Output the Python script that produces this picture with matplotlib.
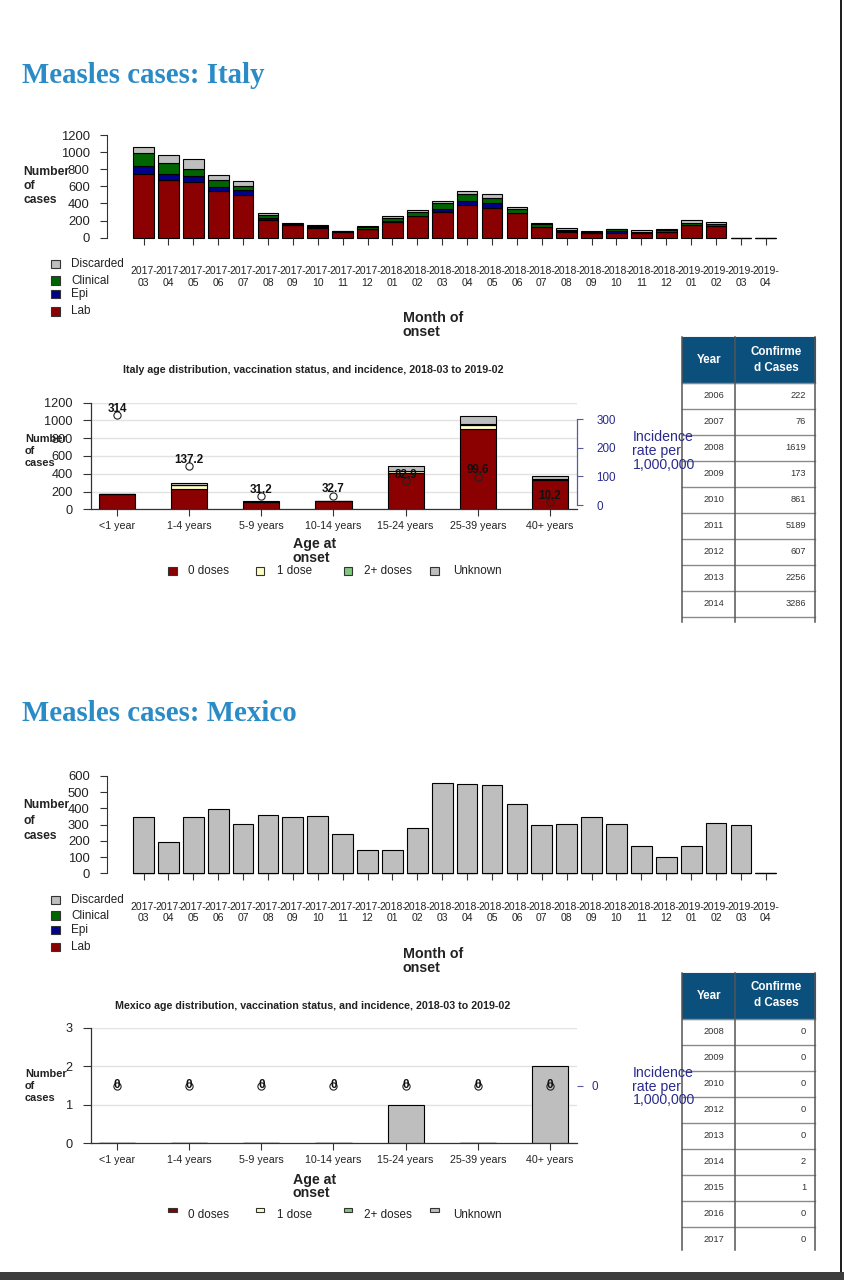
import numpy as np
import matplotlib
matplotlib.use('Agg')
import matplotlib.pyplot as plt
from matplotlib.patches import Rectangle
from matplotlib.transforms import blended_transform_factory

# ---------------- data ----------------
months = ['2017-03', '2017-04', '2017-05', '2017-06', '2017-07', '2017-08', '2017-09',
          '2017-10', '2017-11', '2017-12', '2018-01', '2018-02', '2018-03', '2018-04',
          '2018-05', '2018-06', '2018-07', '2018-08', '2018-09', '2018-10', '2018-11',
          '2018-12', '2019-01', '2019-02', '2019-03', '2019-04']

italy_lab = [740, 680, 655, 550, 500, 210, 145, 115, 62, 100, 180, 250, 305, 382,
             350, 285, 120, 70, 55, 50, 50, 65, 145, 135, 0, 0]
italy_epi = [100, 70, 70, 40, 55, 15, 5, 5, 3, 5, 10, 5, 35, 43,
             50, 8, 8, 5, 3, 25, 5, 5, 5, 5, 0, 0]
italy_clinical = [150, 120, 80, 80, 50, 40, 12, 18, 10, 18, 35, 50, 62, 85,
                  66, 40, 28, 15, 10, 25, 10, 15, 25, 20, 0, 0]
italy_discarded = [75, 100, 115, 60, 55, 25, 10, 8, 8, 8, 25, 20, 30, 31,
                   40, 27, 12, 27, 7, 5, 24, 20, 30, 27, 0, 0]

mexico_lab = [0] * 26
mexico_epi = [0] * 26
mexico_clinical = [0] * 26
mexico_discarded = [345, 191, 347, 397, 306, 360, 345, 356, 242, 142, 146, 277, 555, 549,
                    545, 425, 298, 306, 345, 304, 171, 101, 166, 308, 296, 0]

age_groups = ['<1 year', '1-4 years', '5-9 years', '10-14 years', '15-24 years',
              '25-39 years', '40+ years']
italy_0dose = [168, 228, 80, 88, 405, 900, 335]
italy_1dose = [0, 45, 2, 2, 25, 50, 3]
italy_2dose = [0, 5, 0, 0, 5, 5, 1]
italy_unknown = [4, 18, 8, 7, 50, 100, 33]
italy_incidence = [314, 137.2, 31.2, 32.7, 82.9, 99.6, 10.2]

mexico_0dose = [0, 0, 0, 0, 0, 0, 0]
mexico_1dose = [0, 0, 0, 0, 0, 0, 0]
mexico_2dose = [0, 0, 0, 0, 0, 0, 0]
mexico_unknown = [0, 0, 0, 0, 1, 0, 2]
mexico_incidence = [0, 0, 0, 0, 0, 0, 0]

italy_years = [2006, 2007, 2008, 2009, 2010, 2011, 2012, 2013, 2014]
italy_confirmed = [222, 76, 1619, 173, 861, 5189, 607, 2256, 3286]
mexico_years = [2008, 2009, 2010, 2012, 2013, 2014, 2015, 2016, 2017]
mexico_confirmed = [0, 0, 0, 0, 0, 2, 1, 0, 0]

# ---------------- style ----------------
C_LAB, C_EPI, C_CLIN, C_DISC = '#8b0000', '#00008b', '#006400', '#bebebe'
C_D0, C_D1, C_D2, C_UNK = '#8b0000', '#ffffc4', '#80c880', '#bebebe'
NAVY = '#2b2b8c'
TITLE_BLUE = '#2b8bc6'
DARK = '#222222'

plt.rcParams['font.family'] = ['Liberation Sans', 'DejaVu Sans']

W, H = 844, 1280
fig = plt.figure(figsize=(W / 100, H / 100), dpi=100)
fig.patch.set_facecolor('white')


def add_ax(l, t, r, b, **kw):
    return fig.add_axes([l / W, 1 - b / H, (r - l) / W, (b - t) / H], **kw)


ov = fig.add_axes([0, 0, 1, 1], zorder=10)
ov.set_xlim(0, W)
ov.set_ylim(H, 0)
ov.axis('off')


def txt(x, y, s, **kw):
    kw.setdefault('color', DARK)
    return ov.text(x, y, s, **kw)


def lines_text(x, ys, strings, **kw):
    for y, s in zip(ys, strings):
        txt(x, y, s, va='baseline', **kw)


# ---------------- monthly charts ----------------
def monthly_chart(top, bottom, ymax, step, layers, ylab_base, legend_cy, onset_base):
    ax = add_ax(107, top, 780, bottom)
    ax.patch.set_alpha(0)
    x = np.arange(len(months))
    base = np.zeros(len(months))
    for vals, col in layers:
        v = np.array(vals, dtype=float)
        ax.bar(x, v, 0.833, bottom=base, color=col, edgecolor='black',
               linewidth=0.8, clip_on=False)
        base = base + v
    ax.set_xlim(-1.467, 25.57)
    ax.set_ylim(0, ymax)
    for s in ['top', 'right', 'bottom']:
        ax.spines[s].set_visible(False)
    ax.spines['left'].set_bounds(0, ymax)
    ax.spines['left'].set_color('#333333')
    ax.spines['left'].set_linewidth(0.8)
    ax.set_yticks(np.arange(0, ymax + 1, step))
    ax.tick_params(axis='y', length=5, width=0.8, pad=7.5, labelsize=9.4,
                   color='#333333', labelcolor=DARK)
    ax.set_xticks(x)
    ax.set_xticklabels([])
    ax.tick_params(axis='x', length=5, width=0.8, color='#333333')
    tr = blended_transform_factory(ax.transData, ov.transData)
    for i, m in enumerate(months):
        yr, mo = m.split('-')
        ax.text(i, bottom + 36.5, yr + '-', transform=tr, ha='center', va='baseline',
                fontsize=7.5, color=DARK)
        ax.text(i, bottom + 48, mo, transform=tr, ha='center', va='baseline',
                fontsize=7.5, color=DARK)
    lines_text(23, ylab_base, ['Number', 'of', 'cases'], fontsize=8.7, fontweight='bold')
    for (lab, col), cy in zip([('Discarded', C_DISC), ('Clinical', C_CLIN),
                               ('Epi', C_EPI), ('Lab', C_LAB)], legend_cy):
        ov.add_patch(Rectangle((50.5, cy - 4.2), 9.5, 8.4, facecolor=col,
                               edgecolor='#333333', linewidth=0.8))
        txt(71, cy, lab, va='center', fontsize=8.5)
    lines_text(402.7, onset_base, ['Month of', 'onset'], fontsize=10.3, fontweight='bold')
    return ax


monthly_chart(135, 237.7, 1200, 200,
              [(italy_lab, C_LAB), (italy_epi, C_EPI), (italy_clinical, C_CLIN),
               (italy_discarded, C_DISC)],
              [175, 188.8, 202.6], [264.2, 280.6, 293.8, 311.3], [321.7, 336])

monthly_chart(776, 873.3, 600, 100,
              [(mexico_lab, C_LAB), (mexico_epi, C_EPI), (mexico_clinical, C_CLIN),
               (mexico_discarded, C_DISC)],
              [808.3, 823.6, 839], [900, 915.6, 930.2, 947.3], [957.5, 971.8])


# ---------------- age charts ----------------
def age_chart(top, bottom, ymax, yticks, layers, incidence, ax2_lim, rticks, rbounds,
              lab_off, title, title_y, ylab_base, onset_base, legend_cy, legend_h,
              legend_label_cy, inc_base, rpad, show_rspine):
    ax = add_ax(90.5, top, 577, bottom)
    ax.patch.set_alpha(0)
    x = np.arange(len(age_groups))
    base = np.zeros(len(age_groups))
    for vals, col in layers:
        v = np.array(vals, dtype=float)
        ax.bar(x, v, 0.5, bottom=base, color=col, edgecolor='black', linewidth=0.8,
               zorder=2)
        base = base + v
    ax.set_xlim(-0.367, 6.374)
    ax.set_ylim(0, ymax)
    ax.set_yticks(yticks)
    ax.grid(axis='y', color='#e2e2e2', linewidth=1.0, zorder=0)
    ax.set_axisbelow(True)
    for s in ['top', 'right']:
        ax.spines[s].set_visible(False)
    ax.spines['left'].set_bounds(0, ymax)
    for s in ['left', 'bottom']:
        ax.spines[s].set_color('#333333')
        ax.spines[s].set_linewidth(0.9)
    ax.tick_params(axis='y', length=5.8, width=0.8, pad=7, labelsize=9.2,
                   color='#333333', labelcolor=DARK)
    ax.set_xticks(x)
    ax.set_xticklabels(age_groups, fontsize=7.7, color=DARK)
    ax.tick_params(axis='x', length=5, width=0.8, pad=3.2, color='#333333')

    ax2 = ax.twinx()
    ax2.set_ylim(*ax2_lim)
    for s in ['top', 'left', 'bottom']:
        ax2.spines[s].set_visible(False)
    if show_rspine:
        ax2.spines['right'].set_bounds(*rbounds)
        ax2.spines['right'].set_color('#5a5aa0')
        ax2.spines['right'].set_linewidth(0.9)
    else:
        ax2.spines['right'].set_visible(False)
    ax2.set_yticks(rticks)
    ax2.tick_params(axis='y', length=4.5, width=0.8, pad=rpad, labelsize=8.4,
                    color='#5a5aa0', labelcolor=NAVY)
    ax2.plot(x, incidence, 'o', mfc='none', mec='#222222', ms=5.2, mew=0.8,
             clip_on=False, zorder=5)
    for xi, v in zip(x, incidence):
        ax2.annotate(f'{v:g}', (xi, v), xytext=(0, lab_off), textcoords='offset points',
                     ha='center', va='center', fontsize=8.4, fontweight='bold',
                     color='#111111', zorder=6)

    txt(313, title_y, title, ha='center', va='center', fontsize=7.7, fontweight='bold')
    lines_text(25, ylab_base, ['Number', 'of', 'cases'], fontsize=7.9, fontweight='bold')
    lines_text(292.7, onset_base, ['Age at', 'onset'], fontsize=10.2, fontweight='bold')
    lines_text(632.5, inc_base, ['Incidence', 'rate per', '1,000,000'], fontsize=10.2,
               color=NAVY)
    for (lab, col), lx, tx in zip([('0 doses', C_D0), ('1 dose', C_D1),
                                   ('2+ doses', C_D2), ('Unknown', C_UNK)],
                                  [168, 255.5, 343.5, 430], [188, 277, 364, 453]):
        ov.add_patch(Rectangle((lx, legend_cy - legend_h / 2), 8.5, legend_h,
                               facecolor=col, edgecolor='#333333', linewidth=0.8))
        txt(tx, legend_label_cy, lab, va='center', fontsize=8.4)
    return ax


age_chart(402.7, 509.3, 1200, np.arange(0, 1201, 200),
          [(italy_0dose, C_D0), (italy_1dose, C_D1), (italy_2dose, C_D2),
           (italy_unknown, C_UNK)],
          italy_incidence, (-14.92, 358.1), [0, 100, 200, 300], (0, 300), 4.5,
          'Italy age distribution, vaccination status, and incidence, 2018-03 to 2019-02',
          370, [441.7, 453.6, 465.8], [548.3, 562.3], 571.3, 8.0, 571.5,
          [441, 455, 469], 9.5, True)

age_chart(1027.7, 1143.3, 3, [0, 1, 2, 3],
          [(mexico_0dose, C_D0), (mexico_1dose, C_D1), (mexico_2dose, C_D2),
           (mexico_unknown, C_UNK)],
          mexico_incidence, (-1, 1), [0], (0, 0), 0.3,
          'Mexico age distribution, vaccination status, and incidence, 2018-03 to 2019-02',
          1005.7, [1077.3, 1089.1, 1101], [1184, 1197.3], 1210, 3.4, 1215,
          [1076.7, 1090.5, 1104.3], 6, False)


# ---------------- titles ----------------
txt(22, 83, 'Measles cases: Italy', family=['Liberation Serif', 'DejaVu Serif'],
    fontweight='bold', fontsize=20.8, color=TITLE_BLUE, va='baseline')
txt(22, 721, 'Measles cases: Mexico', family=['Liberation Serif', 'DejaVu Serif'],
    fontweight='bold', fontsize=20.8, color=TITLE_BLUE, va='baseline')


# ---------------- tables ----------------
def table(top, hdr_bottom, years, values, cut):
    x0, xm, x1 = 681.5, 735, 815
    rh = 26
    ov.add_patch(Rectangle((x0, top), x1 - x0, hdr_bottom - top, facecolor='#0b4f7d',
                           edgecolor='#0b4f7d', linewidth=0.8, zorder=1))
    txt((x0 + xm) / 2 + 1, (top + hdr_bottom) / 2, 'Year', ha='center', va='center',
        fontsize=8.4, fontweight='bold', color='white', zorder=3)
    txt((xm + x1) / 2 + 1, top + 14.5, 'Confirme', ha='center', va='center',
        fontsize=8.4, fontweight='bold', color='white', zorder=3)
    txt((xm + x1) / 2 + 1, top + 30.5, 'd Cases', ha='center', va='center',
        fontsize=8.4, fontweight='bold', color='white', zorder=3)
    for k, (yr, v) in enumerate(zip(years, values)):
        yl = hdr_bottom + k * rh
        ov.plot([x0, x1], [yl, yl], color='#8a8a8a', lw=1.0, zorder=2)
        cy = yl + rh / 2 - 0.8
        txt(713.5, cy, str(yr), ha='center', va='center', fontsize=6.7, color='#333333',
            zorder=3)
        txt(806, cy, str(v), ha='right', va='center', fontsize=6.7, color='#333333',
            zorder=3)
    yl = hdr_bottom + len(years) * rh
    if yl < cut:
        ov.plot([x0, x1], [yl, yl], color='#8a8a8a', lw=1.0, zorder=2)
    for xv in (x0, xm, x1):
        ov.plot([xv, xv], [top, cut], color='#555555', lw=1.1, zorder=2)


table(337.3, 383.3, italy_years, italy_confirmed, 622.3)
table(972.7, 1019.3, mexico_years, mexico_confirmed, 1250)

# ---------------- page decorations ----------------
ov.plot([841, 841], [0, 1272], color='#1a1a1a', lw=1.4, zorder=2)
ov.add_patch(Rectangle((0, 1271.7), W, 9, facecolor='#3d3d3d', edgecolor='none', zorder=2))

fig.savefig('out.png', dpi=100, facecolor='white')
